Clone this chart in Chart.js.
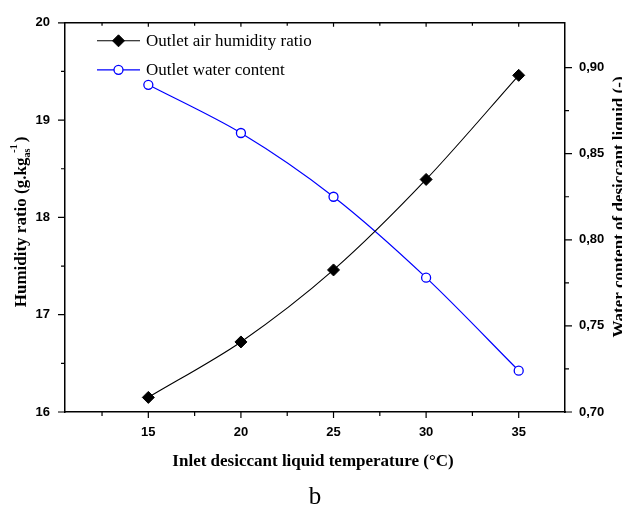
<!DOCTYPE html>
<html>
<head>
<meta charset="utf-8">
<script src="https://cdn.jsdelivr.net/npm/chart.js@4"></script>
<style>
  html, body { margin: 0; padding: 0; background: #fff; }
  #wrap { position: relative; width: 622px; height: 507px; overflow: hidden; }
  #caption { position: absolute; left: 0; width: 630px; top: 482px; text-align: center;
             font: 25px "Liberation Serif", "Times New Roman", serif; color: #000; }
</style>
</head>
<body>
<div id="wrap">
  <canvas id="chart" width="622" height="507"></canvas>
  <div id="caption">b</div>
</div>
<script>
const temperatures = [15, 20, 25, 30, 35];
const humidityRatio = [16.15, 16.72, 17.46, 18.39, 19.46];
const waterContent = [0.890, 0.862, 0.825, 0.778, 0.724];

const xMajorTicks = [15, 20, 25, 30, 35];
const xMinorTicks = [12.5, 17.5, 22.5, 27.5, 32.5];
const leftMajorTicks = [16, 17, 18, 19, 20];
const leftMinorTicks = [16.5, 17.5, 18.5, 19.5];
const rightMajorTicks = [0.70, 0.75, 0.80, 0.85, 0.90];
const rightMinorTicks = [0.725, 0.775, 0.825, 0.875];

const serif = '"Liberation Serif", "Times New Roman", serif';
const tickFont = { family: '"Liberation Sans", Arial, sans-serif', size: 13, weight: 'bold' };

// frame, tick marks, axis titles and legend
const framePlugin = {
  id: 'frame',
  afterDraw(chart) {
    const ctx = chart.ctx;
    const a = chart.chartArea;
    const sx = chart.scales.x, sy = chart.scales.y, sy2 = chart.scales.y2;
    ctx.save();
    ctx.strokeStyle = '#000';
    ctx.lineWidth = 1.5;
    ctx.beginPath();
    ctx.moveTo(a.left, a.top);
    ctx.lineTo(a.right, a.top);
    ctx.stroke();

    ctx.lineWidth = 1.2;
    ctx.beginPath();
    const tick = (list, fn) => list.forEach(fn);
    tick(xMajorTicks, v => { const p = sx.getPixelForValue(v); ctx.moveTo(p, a.bottom); ctx.lineTo(p, a.bottom + 6); ctx.moveTo(p, a.top); ctx.lineTo(p, a.top + 4); });
    tick(xMinorTicks, v => { const p = sx.getPixelForValue(v); ctx.moveTo(p, a.bottom); ctx.lineTo(p, a.bottom + 4); ctx.moveTo(p, a.top); ctx.lineTo(p, a.top + 3); });
    tick(leftMajorTicks, v => { const p = sy.getPixelForValue(v); ctx.moveTo(a.left, p); ctx.lineTo(a.left - 7, p); });
    tick(leftMinorTicks, v => { const p = sy.getPixelForValue(v); ctx.moveTo(a.left, p); ctx.lineTo(a.left - 4, p); });
    tick(rightMajorTicks, v => { const p = sy2.getPixelForValue(v); ctx.moveTo(a.right, p); ctx.lineTo(a.right + 7, p); });
    tick(rightMinorTicks, v => { const p = sy2.getPixelForValue(v); ctx.moveTo(a.right, p); ctx.lineTo(a.right + 4, p); });
    ctx.stroke();

    // x title
    ctx.fillStyle = '#000';
    ctx.font = 'bold 17px ' + serif;
    ctx.textAlign = 'center';
    ctx.textBaseline = 'middle';
    ctx.fillText('Inlet desiccant liquid temperature (\u00b0C)', (a.left + a.right) / 2 - 2, 462);

    // left title with sub/superscript
    const main = 'Humidity ratio (g.kg';
    ctx.textBaseline = 'alphabetic';
    ctx.textAlign = 'left';
    ctx.font = 'bold 17px ' + serif;
    const wMain = ctx.measureText(main).width;
    ctx.font = 'bold 10px ' + serif;
    const wSub = ctx.measureText('as').width;
    const wSup = ctx.measureText('-1').width;
    const supStart = wMain + wSub * 0.55;
    const closeAt = Math.max(wMain + wSub, supStart + wSup) + 2;
    ctx.font = 'bold 17px ' + serif;
    const total = closeAt + ctx.measureText(')').width;
    ctx.save();
    ctx.translate(26, 222);
    ctx.rotate(-Math.PI / 2);
    const x0 = -total / 2;
    ctx.fillText(main, x0, 0);
    ctx.font = 'bold 10px ' + serif;
    ctx.fillText('as', x0 + wMain, 4);
    ctx.fillText('-1', x0 + supStart, -9);
    ctx.font = 'bold 17px ' + serif;
    ctx.fillText(')', x0 + closeAt, 0);
    ctx.restore();

    // right title (partly cut by the page edge, as in the source)
    ctx.save();
    ctx.translate(624, 207);
    ctx.rotate(-Math.PI / 2);
    ctx.font = 'bold 17px ' + serif;
    ctx.textAlign = 'center';
    ctx.fillText('Water content of desiccant liquid (-)', 0, 0);
    ctx.restore();

    // legend
    ctx.font = '17px ' + serif;
    ctx.textAlign = 'left';
    ctx.textBaseline = 'middle';
    chart.data.datasets.forEach((ds, i) => {
      const ly = a.top + 18 + i * 29;
      const lx = a.left + 32;
      ctx.strokeStyle = ds.borderColor;
      ctx.lineWidth = ds.borderWidth;
      ctx.beginPath();
      ctx.moveTo(lx, ly);
      ctx.lineTo(lx + 43, ly);
      ctx.stroke();
      ctx.fillStyle = ds.pointBackgroundColor;
      ctx.strokeStyle = ds.pointBorderColor;
      ctx.lineWidth = ds.pointBorderWidth || 1;
      Chart.helpers.drawPoint(ctx, { pointStyle: ds.pointStyle, radius: ds.pointRadius, rotation: 0, borderWidth: ds.pointBorderWidth || 1 }, lx + 21.5, ly);
      ctx.fillStyle = '#000';
      ctx.fillText(ds.label, lx + 49, ly + 1);
    });
    ctx.restore();
  }
};

const ctx = document.getElementById('chart').getContext('2d');
new Chart(ctx, {
  type: 'line',
  data: {
    datasets: [{
      label: 'Outlet air humidity ratio',
      data: temperatures.map((t, i) => ({ x: t, y: humidityRatio[i] })),
      yAxisID: 'y',
      borderColor: '#000',
      borderWidth: 1.1,
      pointStyle: 'rectRot',
      pointRadius: 6,
      pointBackgroundColor: '#000',
      pointBorderColor: '#000',
      pointBorderWidth: 1,
      tension: 0.3
    }, {
      label: 'Outlet water content',
      data: temperatures.map((t, i) => ({ x: t, y: waterContent[i] })),
      yAxisID: 'y2',
      borderColor: '#0000ff',
      borderWidth: 1.2,
      pointStyle: 'circle',
      pointRadius: 4.5,
      pointBackgroundColor: '#fff',
      pointBorderColor: '#0000ff',
      pointBorderWidth: 1.3,
      tension: 0.3
    }]
  },
  options: {
    responsive: false,
    animation: false,
    layout: { padding: { top: 20, left: 0, right: 0, bottom: 0 } },
    plugins: { legend: { display: false }, tooltip: { enabled: false } },
    scales: {
      x: {
        type: 'linear', min: 10.5, max: 37.5,
        grid: { display: false, drawTicks: false },
        border: { color: '#000', width: 1.5 },
        afterBuildTicks: s => { s.ticks = xMajorTicks.map(v => ({ value: v })); },
        ticks: { font: tickFont, color: '#000', padding: 13, maxRotation: 0 },
        afterFit: s => { s.height = 95; }
      },
      y: {
        position: 'left', min: 16, max: 20,
        grid: { display: false, drawTicks: false },
        border: { color: '#000', width: 1.5 },
        afterBuildTicks: s => { s.ticks = leftMajorTicks.map(v => ({ value: v })); },
        ticks: { font: tickFont, color: '#000', padding: 15 },
        afterFit: s => { s.width = 65; }
      },
      y2: {
        position: 'right', min: 0.70, max: 0.926,
        grid: { display: false, drawTicks: false },
        border: { color: '#000', width: 1.5 },
        afterBuildTicks: s => { s.ticks = rightMajorTicks.map(v => ({ value: v })); },
        ticks: { font: tickFont, color: '#000', padding: 14, callback: v => v.toFixed(2).replace('.', ',') },
        afterFit: s => { s.width = 57; }
      }
    }
  },
  plugins: [framePlugin]
});
</script>
</body>
</html>
